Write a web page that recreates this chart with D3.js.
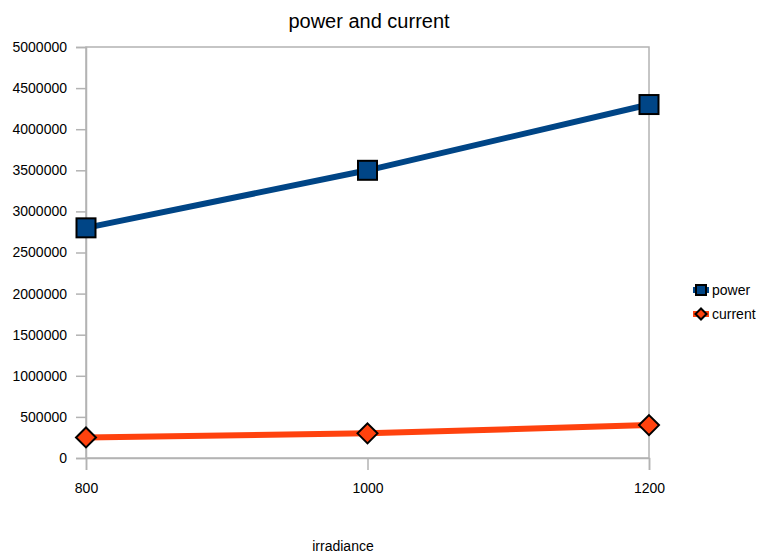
<!DOCTYPE html>
<html>
<head>
<meta charset="utf-8">
<script src="https://cdn.jsdelivr.net/npm/d3@7"></script>
<style>
  html, body { margin: 0; padding: 0; background: #fff; }
  svg { display: block; font-family: "Liberation Sans", Arial, sans-serif; }
</style>
</head>
<body>
<svg id="chart" width="763" height="554"></svg>
<script>
// Irradiance levels on the x axis
const irradiance = [800, 1000, 1200];
// Series values
const power = [2800000, 3500000, 4300000];
const current = [250000, 300000, 400000];
// Axis ticks
const xTicks = [800, 1000, 1200];
const yTicks = [0, 500000, 1000000, 1500000, 2000000, 2500000, 3000000, 3500000, 4000000, 4500000, 5000000];

const svg = d3.select("#chart");
const plot = { left: 86, right: 649, top: 47, bottom: 458 };

const x = d3.scaleLinear().domain([800, 1200]).range([plot.left, plot.right]);
const y = d3.scaleLinear().domain([0, 5000000]).range([plot.bottom, plot.top]);

const axisColor = "#b3b3b3";

// Plot frame
svg.append("rect")
  .attr("x", plot.left).attr("y", plot.top)
  .attr("width", plot.right - plot.left).attr("height", plot.bottom - plot.top)
  .attr("fill", "none").attr("stroke", axisColor).attr("stroke-width", 1.5);

// Y axis
const yAxis = svg.append("g")
  .attr("transform", `translate(${plot.left},0)`)
  .call(d3.axisLeft(y).tickValues(yTicks).tickSize(10).tickPadding(9).tickFormat(d3.format("d")));
yAxis.select(".domain").attr("stroke", axisColor).attr("stroke-width", 1.5);
yAxis.selectAll(".tick line").attr("stroke", axisColor).attr("stroke-width", 1.5);
yAxis.selectAll(".tick text").attr("font-size", 14).attr("fill", "#000")
  .attr("font-family", "Liberation Sans, Arial, sans-serif");

// X axis
const xAxis = svg.append("g")
  .attr("transform", `translate(0,${plot.bottom})`)
  .call(d3.axisBottom(x).tickValues(xTicks).tickSize(12).tickPadding(13).tickFormat(d3.format("d")));
xAxis.select(".domain").attr("stroke", axisColor).attr("stroke-width", 1.5);
xAxis.selectAll(".tick line").attr("stroke", axisColor).attr("stroke-width", 1.5);
xAxis.selectAll(".tick text").attr("font-size", 14).attr("fill", "#000")
  .attr("font-family", "Liberation Sans, Arial, sans-serif");

// Titles
svg.append("text").attr("x", 369).attr("y", 28).attr("text-anchor", "middle")
  .attr("font-size", 20).attr("fill", "#000").text("power and current");
svg.append("text").attr("x", 343).attr("y", 551).attr("text-anchor", "middle")
  .attr("font-size", 14).attr("fill", "#000").text("irradiance");

const series = [
  { name: "power", values: power, color: "#004586", shape: "square" },
  { name: "current", values: current, color: "#ff420e", shape: "diamond" }
];

const line = d3.line().x(d => x(d[0])).y(d => y(d[1]));

function marker(g, shape, cx, cy, size, color) {
  if (shape === "square") {
    g.append("rect").attr("x", cx - size / 2).attr("y", cy - size / 2)
      .attr("width", size).attr("height", size)
      .attr("fill", color).attr("stroke", "#000").attr("stroke-width", 2);
  } else {
    const r = size / 2 + 1;
    g.append("path").attr("d", `M${cx},${cy - r}L${cx + r},${cy}L${cx},${cy + r}L${cx - r},${cy}Z`)
      .attr("fill", color).attr("stroke", "#000").attr("stroke-width", 2);
  }
}

series.forEach(s => {
  const pts = irradiance.map((v, i) => [v, s.values[i]]);
  svg.append("path").datum(pts).attr("d", line)
    .attr("fill", "none").attr("stroke", s.color).attr("stroke-width", 6)
    .attr("stroke-linejoin", "round");
  const g = svg.append("g");
  pts.forEach(p => marker(g, s.shape, x(p[0]), y(p[1]), s.shape === "square" ? 19 : 18, s.color));
});

// Legend
const legend = svg.append("g");
series.forEach((s, i) => {
  const cy = 290 + i * 24;
  legend.append("line").attr("x1", 693).attr("x2", 709).attr("y1", cy).attr("y2", cy)
    .attr("stroke", s.color).attr("stroke-width", 6);
  marker(legend, s.shape, 701, cy, s.shape === "square" ? 10 : 9, s.color);
  legend.append("text").attr("x", 712).attr("y", cy + 5).attr("font-size", 14)
    .attr("fill", "#000").text(s.name);
});
</script>
</body>
</html>
